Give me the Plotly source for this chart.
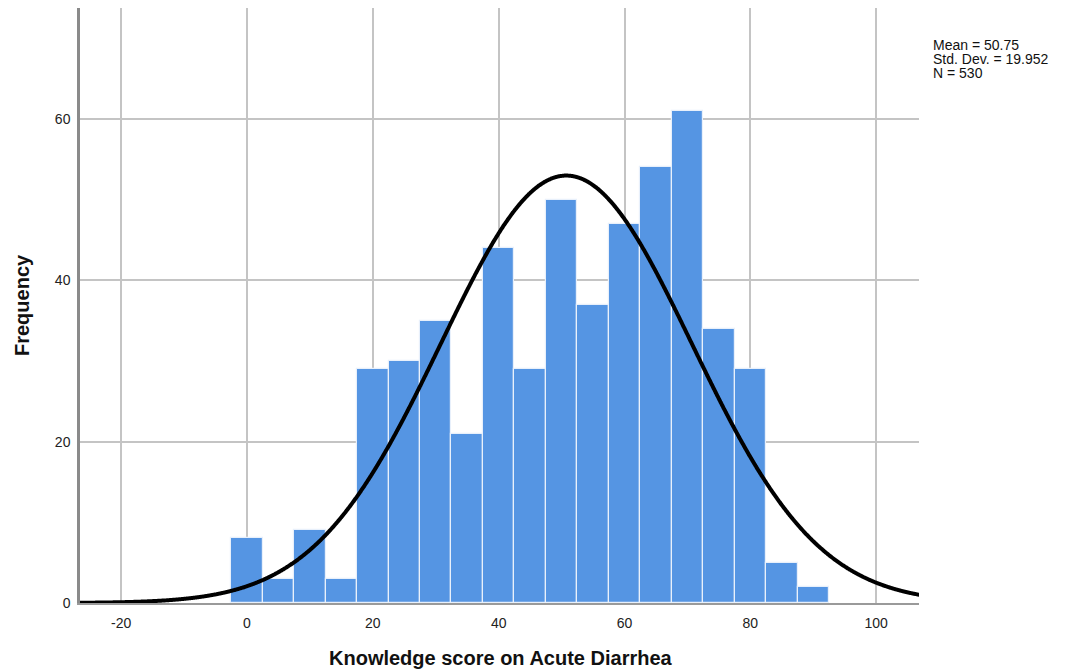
import numpy as np
import plotly.graph_objects as go

# Histogram bins (width 5) and frequencies
bin_centers = [0, 5, 10, 15, 20, 25, 30, 35, 40, 45, 50, 55, 60, 65, 70, 75, 80, 85, 90]
frequencies = [8, 3, 9, 3, 29, 30, 35, 21, 44, 29, 50, 37, 47, 54, 61, 34, 29, 5, 2]
bin_width = 5

# Summary statistics
mean = 50.75
std_dev = 19.952
n_total = 530
stats_lines = ["Mean = 50.75", "Std. Dev. = 19.952", "N = 530"]

x_ticks = [-20, 0, 20, 40, 60, 80, 100]
x_tick_text = ["-20", "0", "20", "40", "60", "80", "100"]
y_ticks = [0, 20, 40, 60]

# Normal curve scaled to the histogram counts
xs = np.linspace(-27, 107, 1200)
ys = n_total * bin_width / (std_dev * np.sqrt(2 * np.pi)) * np.exp(-0.5 * ((xs - mean) / std_dev) ** 2)

fig = go.Figure()
fig.add_trace(go.Bar(
    x=bin_centers, y=frequencies, width=[bin_width] * len(bin_centers),
    marker=dict(color="#5595e3", line=dict(color="#e8f0fb", width=1.2)),
    showlegend=False,
))
fig.add_trace(go.Scatter(
    x=xs, y=ys, mode="lines",
    line=dict(color="black", width=4, shape="spline"),
    showlegend=False,
))

# Plot-area geometry in pixels
left, right, top, bottom = 80, 146, 8, 69
plot_w = 1065 - left - right
plot_h = 672 - top - bottom


def px_x(px):
    return (px - left) / plot_w


def px_y(py):
    return 1 - (py - top) / plot_h


# Statistics box, one line per annotation for tight spacing
for i, line in enumerate(stats_lines):
    fig.add_annotation(
        x=px_x(931), y=px_y(45 + 14 * i),
        xref="paper", yref="paper", text=line,
        showarrow=False, align="left", xanchor="left", yanchor="middle",
        font=dict(family="Liberation Sans, Arial", size=14, color="#111"),
    )

# Axis titles
fig.add_annotation(
    x=px_x(501), y=px_y(658), xref="paper", yref="paper",
    text="<b>Knowledge score on Acute Diarrhea</b>", showarrow=False,
    xanchor="center", yanchor="middle",
    font=dict(family="Liberation Sans, Arial", size=20, color="#111"),
)
fig.add_annotation(
    x=px_x(22), y=px_y(305), xref="paper", yref="paper",
    text="<b>Frequency</b>", showarrow=False, textangle=-90,
    xanchor="center", yanchor="middle",
    font=dict(family="Liberation Sans, Arial", size=20, color="#111"),
)

fig.update_layout(
    width=1065, height=672,
    margin=dict(l=left, r=right, t=top, b=bottom, autoexpand=False),
    plot_bgcolor="white", paper_bgcolor="white",
    bargap=0,
    font=dict(family="Liberation Sans, Arial", size=13, color="#222"),
    xaxis=dict(
        range=[-26.54, 106.8], tickvals=x_ticks, ticktext=x_tick_text, ticks="",
        ticklabelstandoff=6, automargin=False,
        showgrid=True, gridcolor="#c4c4c4", gridwidth=1.5,
        showline=True, linecolor="#9a9a9a", linewidth=1.5,
        zeroline=False,
        tickfont=dict(size=14),
    ),
    yaxis=dict(
        range=[0, 73.76], tickvals=y_ticks, ticks="",
        ticklabelstandoff=4, automargin=False,
        showgrid=True, gridcolor="#c4c4c4", gridwidth=1.5,
        showline=True, linecolor="#8a8a8a", linewidth=2.5,
        zeroline=False,
        tickfont=dict(size=14),
    ),
)

fig.write_html("out.html")
